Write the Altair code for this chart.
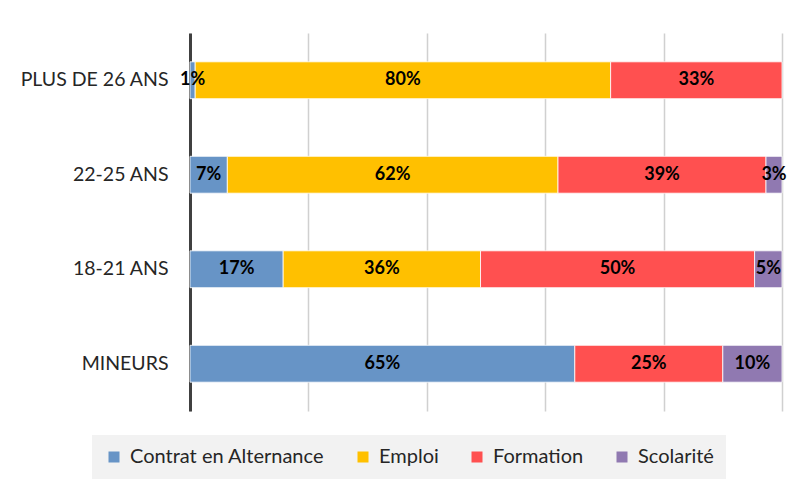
import altair as alt
import pandas as pd

ages = ["PLUS DE 26 ANS", "22-25 ANS", "18-21 ANS", "MINEURS"]
categories = ["Contrat en Alternance", "Emploi", "Formation", "Scolarité"]
alternance = [1, 7, 17, 65]
emploi = [80, 62, 36, 0]
formation = [33, 39, 50, 25]
scolarite = [0, 3, 5, 10]
colors = ["#6794C6", "#FFC000", "#FF5050", "#9079B1"]

series = [alternance, emploi, formation, scolarite]
rows = []
for i, a in enumerate(ages):
    for j, c in enumerate(categories):
        v = series[j][i]
        if v > 0:
            rows.append({"age": a, "cat": c, "value": v, "ord": j, "label": f"{v}%"})
df = pd.DataFrame(rows)

FONT = "Lato"

base = alt.Chart(df).transform_stack(
    stack="value",
    groupby=["age"],
    as_=["v0", "v1"],
    offset="normalize",
    sort=[alt.SortField("ord", order="ascending")],
).transform_calculate(mid="(datum.v0 + datum.v1) / 2")

y = alt.Y(
    "age:N",
    sort=ages,
    title=None,
    scale=alt.Scale(paddingInner=0.61, paddingOuter=0.305),
    axis=alt.Axis(
        ticks=False,
        domain=True,
        domainColor="#404040",
        domainWidth=3,
        labelFont=FONT,
        labelFontSize=19.5,
        labelColor="#262626",
        labelPadding=22,
        grid=False,
    ),
)

bars = base.mark_bar(stroke="#ffffff", strokeWidth=1, strokeOpacity=0.8).encode(
    x=alt.X(
        "v0:Q",
        scale=alt.Scale(domain=[0, 1], nice=False),
        title=None,
        axis=alt.Axis(
            values=[0, 0.2, 0.4, 0.6, 0.8, 1.0],
            labels=False,
            ticks=False,
            domain=False,
            grid=True,
            gridColor="#d0d0d0",
            gridWidth=1.5,
        ),
    ),
    x2="v1:Q",
    y=y,
    color=alt.Color(
        "cat:N",
        scale=alt.Scale(domain=categories, range=colors),
        legend=alt.Legend(
            title=None,
            orient="none",
            legendX=-98,
            legendY=402,
            direction="horizontal",
            columns=4,
            symbolType="square",
            symbolSize=121,
            symbolStrokeWidth=0,
            labelFont=FONT,
            labelFontSize=20,
            labelColor="#262626",
            labelOffset=6,
            columnPadding=28,
            padding=12,
            fillColor="#f2f2f2",
            labelLimit=400,
        ),
    ),
    order=alt.Order("ord:Q"),
)

texts = base.mark_text(
    font=FONT, fontSize=18, fontWeight="bold", color="#000000", align="center", baseline="middle"
).encode(
    x=alt.X("mid:Q"),
    y=alt.Y("age:N", sort=ages),
    text="label:N",
)

chart = (
    alt.layer(bars, texts)
    .properties(
        width=592,
        height=378,
        autosize=alt.AutoSizeParams(type="none"),
        padding={"left": 182, "top": 25, "right": 10, "bottom": 69},
        background="#ffffff",
    )
    .configure_view(stroke=None)
)

chart.save("out.html", embed_options={"renderer": "svg", "actions": False})
